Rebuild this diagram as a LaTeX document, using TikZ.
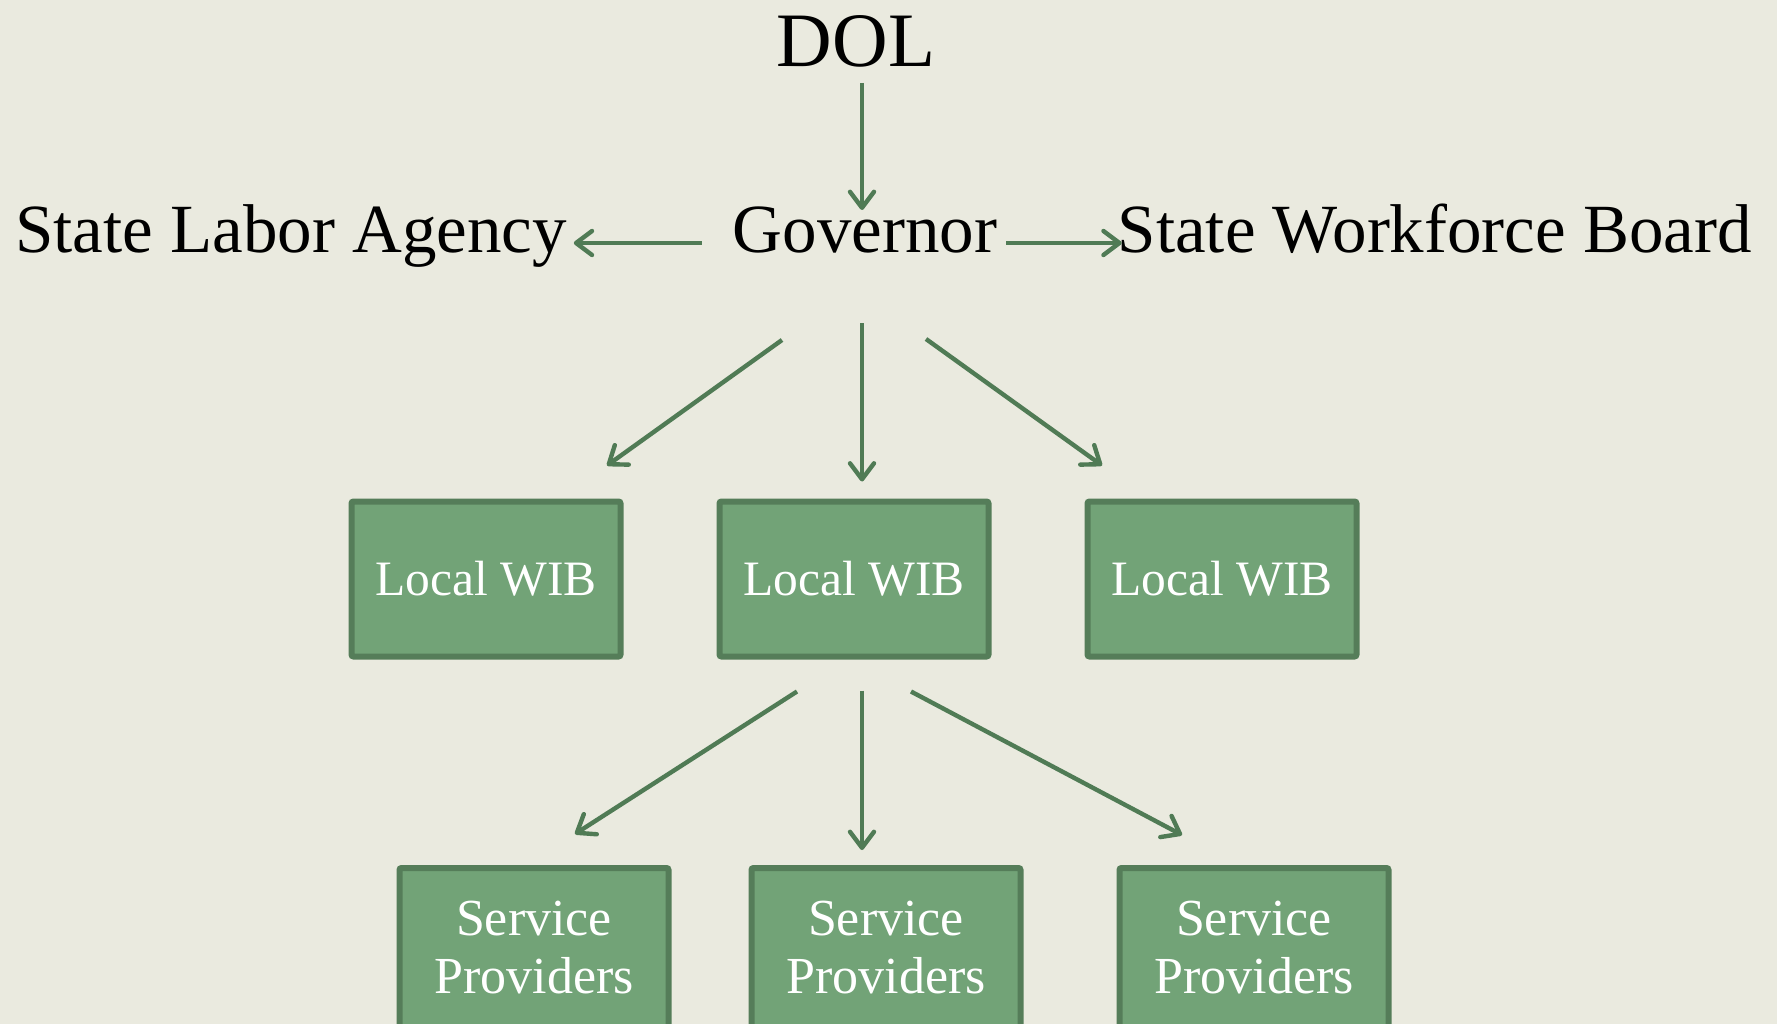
\documentclass[tikz,border=0pt]{standalone}
\usepackage{fontspec}
\setmainfont{Liberation Serif}
\usetikzlibrary{arrows.meta,calc}
\definecolor{bgc}{RGB}{234,234,223}
\definecolor{boxfill}{RGB}{114,163,119}
\definecolor{boxline}{RGB}{85,125,89}
\definecolor{arrowc}{RGB}{80,123,85}
\begin{document}
\begin{tikzpicture}[x=1pt,y=-1pt,
  title/.style={inner sep=0pt,outer sep=0pt,text=black,font=\fontsize{69}{83}\selectfont},
  wib/.style={draw=boxline,fill=boxfill,line width=6pt,rounded corners=2pt,minimum width=269pt,minimum height=155pt,inner sep=0pt,outer sep=0pt,text=white,font=\fontsize{49.5}{58}\selectfont},
  spbox/.style={draw=boxline,fill=boxfill,line width=6pt,rounded corners=2pt,minimum width=269pt,minimum height=172pt,inner sep=0pt,outer sep=0pt},
  sptext/.style={inner sep=0pt,outer sep=0pt,text=white,align=center,font=\fontsize{52}{58}\selectfont},
  arr/.style={draw=arrowc,line width=4.4pt,-{Straight Barb[length=16pt,width=24pt,round]}}]
\useasboundingbox (0,0) rectangle (1777,1024);
\fill[bgc] (0,0) rectangle (1777,1024);

\node[title,anchor=base,font=\fontsize{77}{90}\selectfont] (dol) at (856,67) {DOL};
\node[title,anchor=base] (gov) at (865,253) {Governor};
\node[title,anchor=base west] (sla) at (15,253) {State Labor Agency};
\node[title,anchor=base east] (swb) at (1752,253) {State Workforce Board};

\node[wib] (w1) at (486,579) {Local WIB};
\node[wib] (w2) at (854,579) {Local WIB};
\node[wib] (w3) at (1222,579) {Local WIB};

\node[spbox] (s1) at (534,954) {};
\node[spbox] (s2) at (886,954) {};
\node[spbox] (s3) at (1254,954) {};
\node[sptext] (s1t) at ($(s1.north)+(0,80)$) {Service\\Providers};
\node[sptext] (s2t) at ($(s2.north)+(0,80)$) {Service\\Providers};
\node[sptext] (s3t) at ($(s3.north)+(0,80)$) {Service\\Providers};

\draw[arr] ($(dol.base)+(6,16)$) -- ($(gov.base)+(-3,-43)$);
\draw[arr] ($(gov.base west)+(-31,-10)$) -- ($(sla.base east)+(7,-10)$);
\draw[arr] ($(gov.base east)+(9,-10)$) -- ($(swb.base west)+(4,-10)$);

\draw[arr] ($(gov.base)+(-83,87)$) -- ($(w1.north)+(121,-36)$);
\draw[arr] ($(gov.base)+(-3,70)$) -- ($(w2.north)+(8,-20)$);
\draw[arr] ($(gov.base)+(61,86)$) -- ($(w3.north)+(-120,-36)$);

\draw[arr] ($(w2.south)+(-57,35)$) -- ($(s1.north)+(41,-34)$);
\draw[arr] ($(w2.south)+(8,34)$) -- ($(s2.north)+(-24,-18)$);
\draw[arr] ($(w2.south)+(57,35)$) -- ($(s3.north)+(-72,-33)$);
\end{tikzpicture}
\end{document}
